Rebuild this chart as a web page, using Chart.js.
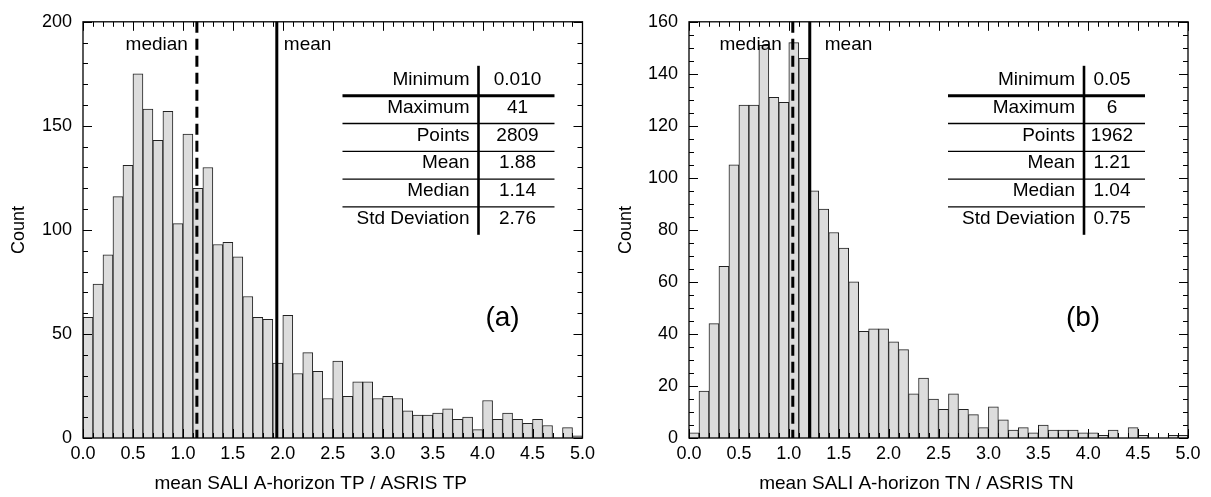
<!DOCTYPE html>
<html>
<head>
<meta charset="utf-8">
<script src="https://cdn.jsdelivr.net/npm/chart.js@4.4.1/dist/chart.umd.min.js"></script>
<style>
  html, body { margin: 0; padding: 0; background: #fff; }
  #wrap { position: relative; width: 1211px; height: 497px; }
  #chartTP { position: absolute; left: 0; top: 0; }
  #chartTN { position: absolute; left: 600px; top: 0; }
</style>
</head>
<body>
<div id="wrap">
  <canvas id="chartTP" width="600" height="497"></canvas>
  <canvas id="chartTN" width="611" height="497"></canvas>
</div>
<script>
const FONT = '"Liberation Sans", Arial, sans-serif';

// histogram bins: 0.0 - 5.0, 0.1 wide
const BIN_WIDTH = 0.1;
const X_MIN = 0;
const X_MAX = 5;

// (a) TP ratio counts per bin
const tpCounts = [
  58, 74, 88, 116, 131, 175, 158, 143, 157, 103,
  146, 120, 130, 93, 94, 87, 68, 58, 57, 36,
  59, 31, 41, 32, 19, 37, 20, 27, 27, 19,
  20, 19, 13, 11, 11, 12, 14, 9, 10, 4,
  18, 9, 12, 9, 7, 9, 6, 0, 5, 1
];

// (b) TN ratio counts per bin
const tnCounts = [
  2, 18, 44, 66, 105, 128, 128, 151, 131, 129,
  152, 146, 95, 88, 79, 73, 60, 41, 42, 42,
  37, 34, 17, 23, 15, 11, 17, 11, 9, 4,
  12, 7, 3, 4, 2, 5, 3, 3, 3, 2,
  2, 1, 3, 0, 4, 1, 0, 0, 1, 1
];

const statLabels = ["Minimum", "Maximum", "Points", "Mean", "Median", "Std Deviation"];
const tpStats = ["0.010", "41", "2809", "1.88", "1.14", "2.76"];
const tnStats = ["0.05", "6", "1962", "1.21", "1.04", "0.75"];

// where the median / mean markers sit on the x axis
const tpMarkers = { median: 1.14, mean: 1.94 };
const tnMarkers = { median: 1.04, mean: 1.21 };

const tpTitle = "mean SALI A-horizon TP / ASRIS TP";
const tnTitle = "mean SALI A-horizon TN / ASRIS TN";

// draws the frame, inward ticks, marker lines, stats table, x title and panel tag
const decorPlugin = {
  id: "decor",
  afterDatasetsDraw(chart) {
    const cfg = chart.options.plugins.decor;
    const { ctx, chartArea: a, scales: { x, y } } = chart;

    ctx.save();
    ctx.strokeStyle = "#000";

    // inward tick marks on all four sides
    ctx.lineWidth = 1;
    ctx.beginPath();
    for (let i = 0; i <= 50; i++) {
      const px = Math.round(x.getPixelForValue(i * BIN_WIDTH)) + 0.5;
      const len = i % 5 === 0 ? 9 : 5;
      ctx.moveTo(px, a.bottom); ctx.lineTo(px, a.bottom - len);
      ctx.moveTo(px, a.top); ctx.lineTo(px, a.top + len);
    }
    const nMinor = Math.round(cfg.yMax / cfg.yMinor);
    for (let i = 0; i <= nMinor; i++) {
      const v = i * cfg.yMinor;
      const py = Math.round(y.getPixelForValue(v)) + 0.5;
      const len = v % cfg.yMajor === 0 ? 9 : 5;
      ctx.moveTo(a.left, py); ctx.lineTo(a.left + len, py);
      ctx.moveTo(a.right, py); ctx.lineTo(a.right - len, py);
    }
    ctx.stroke();

    // frame
    ctx.lineWidth = 1.3;
    ctx.strokeRect(a.left, a.top, a.right - a.left, a.bottom - a.top);

    // median (dashed) and mean (solid)
    const mx = x.getPixelForValue(cfg.markers.median);
    const ax = x.getPixelForValue(cfg.markers.mean);
    ctx.lineWidth = 3;
    ctx.setLineDash([11, 6]);
    ctx.beginPath();
    ctx.moveTo(mx, a.top); ctx.lineTo(mx, a.bottom);
    ctx.stroke();
    ctx.setLineDash([]);
    ctx.beginPath();
    ctx.moveTo(ax, a.top); ctx.lineTo(ax, a.bottom);
    ctx.stroke();

    ctx.fillStyle = "#000";
    ctx.font = "19px " + FONT;
    ctx.textBaseline = "middle";
    ctx.textAlign = "right";
    ctx.fillText("median", mx - cfg.medianGap, a.top + 23);
    ctx.textAlign = "left";
    ctx.fillText("mean", ax + cfg.meanGap, a.top + 23);

    // stats table
    const divX = a.right - 104;
    const rowY0 = a.top + 58;
    const rowH = 27.8;
    const lineL = a.right - 240;
    const lineR = a.right - cfg.tableRightInset;
    for (let r = 0; r < statLabels.length; r++) {
      const cy = rowY0 + r * rowH;
      ctx.textAlign = "right";
      ctx.fillText(statLabels[r], divX - 9, cy);
      ctx.textAlign = "center";
      ctx.fillText(cfg.stats[r], a.right - cfg.valueInset, cy);
      if (r < statLabels.length - 1) {
        const ly = cy + rowH / 2 + 2;
        ctx.lineWidth = r === 0 ? 3 : 1.3;
        ctx.beginPath();
        ctx.moveTo(lineL, ly); ctx.lineTo(lineR, ly);
        ctx.stroke();
      }
    }
    ctx.lineWidth = 2.6;
    ctx.beginPath();
    ctx.moveTo(divX, a.top + 44);
    ctx.lineTo(divX, a.top + 213);
    ctx.stroke();

    // panel tag
    ctx.font = "28px " + FONT;
    ctx.textAlign = "center";
    ctx.fillText(cfg.tag, a.right - cfg.tagInset, a.top + 296);

    // x axis title (sits a little left of the plot centre in the original)
    ctx.font = "19px " + FONT;
    ctx.fillText(cfg.title, (a.left + a.right) / 2 - 22, 484);

    ctx.restore();
  }
};

function makeHistogram(canvasId, counts, opts) {
  const points = counts.map((c, i) => ({ x: (i + 0.5) * BIN_WIDTH, y: c }));
  const ctx = document.getElementById(canvasId).getContext("2d");

  return new Chart(ctx, {
    type: "bar",
    data: {
      datasets: [{
        data: points,
        backgroundColor: "#dcdcdc",
        borderColor: "#222",
        borderWidth: 1,
        barPercentage: 1,
        categoryPercentage: 1
      }]
    },
    options: {
      responsive: false,
      animation: false,
      layout: { padding: { left: 0, top: 19, right: opts.padRight, bottom: 0 } },
      plugins: {
        legend: { display: false },
        tooltip: { enabled: false },
        decor: {
          yMax: opts.yMax,
          yMajor: opts.yMajor,
          yMinor: opts.yMinor,
          markers: opts.markers,
          stats: opts.stats,
          tag: opts.tag,
          title: opts.title,
          medianGap: opts.medianGap,
          meanGap: opts.meanGap,
          valueInset: opts.valueInset,
          tableRightInset: opts.tableRightInset,
          tagInset: opts.tagInset
        }
      },
      scales: {
        x: {
          type: "linear",
          min: X_MIN,
          max: X_MAX,
          offset: false,
          grid: { display: false, drawTicks: false },
          border: { display: false },
          ticks: {
            stepSize: 0.5,
            autoSkip: false,
            maxRotation: 0,
            padding: 5,
            color: "#000",
            font: { size: 18, family: FONT },
            callback: v => Number(v).toFixed(1)
          },
          afterFit: s => { s.height = 59; }
        },
        y: {
          min: 0,
          max: opts.yMax,
          grid: { display: false, drawTicks: false },
          border: { display: false },
          ticks: {
            stepSize: opts.yMajor,
            padding: 11,
            color: "#000",
            font: { size: 18, family: FONT }
          },
          title: {
            display: true,
            text: "Count",
            color: "#000",
            font: { size: 18, family: FONT },
            padding: { top: opts.countPad, bottom: 0 }
          },
          afterFit: s => { s.width = opts.axisWidth; }
        }
      }
    },
    plugins: [decorPlugin]
  });
}

makeHistogram("chartTP", tpCounts, {
  yMax: 200, yMajor: 50, yMinor: 10,
  axisWidth: 83, padRight: 17, countPad: 8,
  markers: tpMarkers, stats: tpStats, tag: "(a)", title: tpTitle,
  medianGap: 9, meanGap: 7, valueInset: 65, tableRightInset: 28, tagInset: 80
});

makeHistogram("chartTN", tnCounts, {
  yMax: 160, yMajor: 20, yMinor: 5,
  axisWidth: 89, padRight: 23, countPad: 15,
  markers: tnMarkers, stats: tnStats, tag: "(b)", title: tnTitle,
  medianGap: 11, meanGap: 15, valueInset: 76, tableRightInset: 43, tagInset: 105
});
</script>
</body>
</html>
